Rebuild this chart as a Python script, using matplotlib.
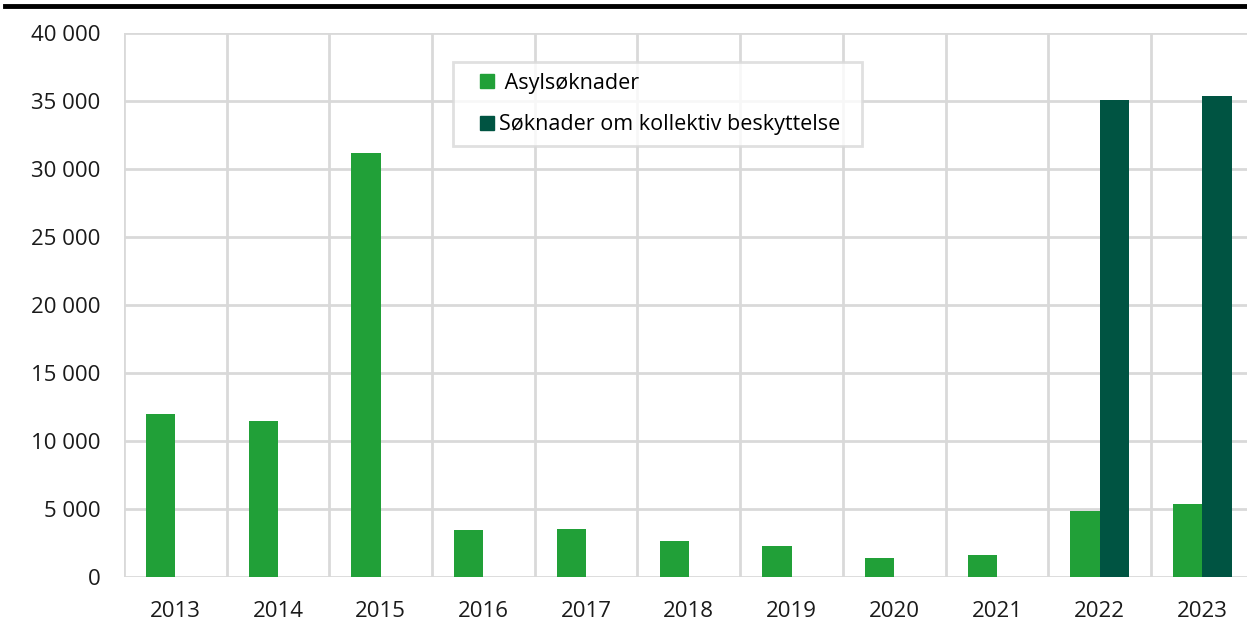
import numpy as np
import matplotlib.pyplot as plt
from matplotlib.lines import Line2D

years = ["2013", "2014", "2015", "2016", "2017", "2018", "2019", "2020", "2021", "2022", "2023"]
asyl = [12000, 11450, 31150, 3460, 3530, 2650, 2280, 1390, 1620, 4850, 5370]
kollektiv = [0, 0, 0, 0, 0, 0, 0, 0, 0, 35100, 35400]
labels = [" Asylsøknader", "Søknader om kollektiv beskyttelse"]
green = "#21a038"
dark = "#005442"

plt.rcParams['font.family'] = ['Open Sans', 'DejaVu Sans']

fig = plt.figure(figsize=(12.47, 6.21), dpi=100)
ax = fig.add_axes([124 / 1247, 44 / 621, 1 - 124 / 1247, 544 / 621])

x = np.arange(len(years))
w = 0.285
ax.bar(x - w / 2, asyl, w, color=green, label=labels[0], zorder=3)
ax.bar(x + w / 2, kollektiv, w, color=dark, label=labels[1], zorder=3)

ax.set_yticks(np.arange(0, 40001, 5000))
ax.set_yticklabels([f"{v:,}".replace(",", " ") for v in range(0, 40001, 5000)])
ax.set_xticks(x)
ax.set_xticklabels(years)
ax.set_xticks(np.arange(-0.5, 10, 1), minor=True)
ax.set_ylim(0, 40000)
ax.set_xlim(-0.5, 10.435)
ax.grid(True, axis='y', color="#d9d9d9", lw=2, zorder=0)
ax.grid(True, axis='x', which='minor', color="#d9d9d9", lw=2, zorder=0)
ax.grid(False, axis='x', which='major')
for s in ax.spines.values():
    s.set_visible(False)
ax.tick_params(axis='both', which='both', length=0, labelsize=16, colors="#1a1a1a")
ax.tick_params(axis='y', pad=17)
ax.tick_params(axis='x', pad=17)

handles = [Line2D([], [], ls='', marker='s', ms=9.5, color=green),
           Line2D([], [], ls='', marker='s', ms=9.5, color=dark)]
leg = ax.legend(handles, labels, loc='upper left', mode='expand',
                bbox_to_anchor=(0.293, 0.5, 0.364, 0.447),
                fontsize=15.5, frameon=True, fancybox=False, borderpad=0.5,
                labelspacing=0.97, handletextpad=-0.56, handlelength=2.19,
                borderaxespad=0)
leg.get_frame().set_edgecolor("#d9d9d9")
leg.get_frame().set_linewidth(2)
leg.set_zorder(5)

fig.add_artist(Line2D([5 / 1247, 1], [1 - 6 / 621, 1 - 6 / 621], color='black', lw=3.5))

fig.savefig("out.png", dpi=100)
